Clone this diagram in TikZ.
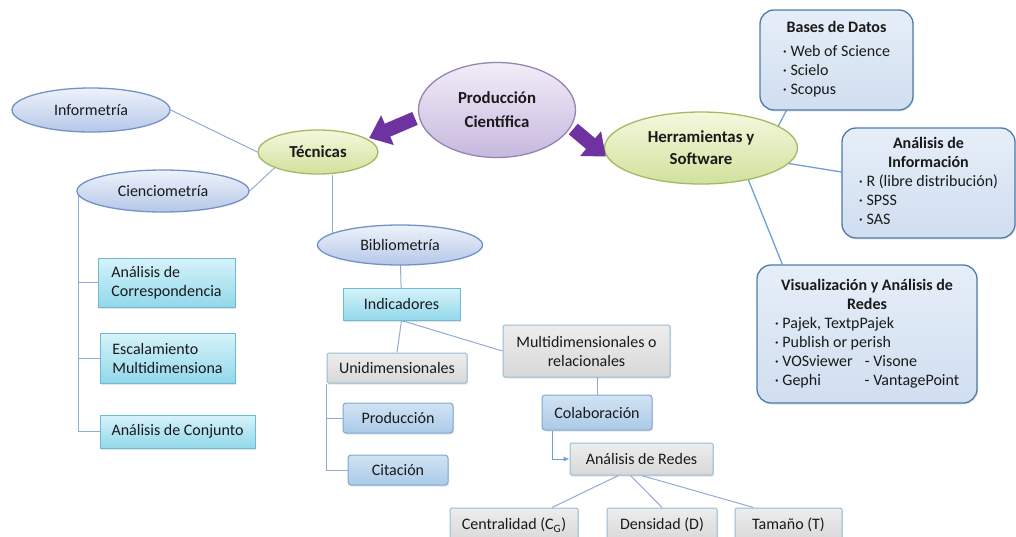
\documentclass[tikz,border=0pt]{standalone}
\usepackage{fontspec}
\setmainfont{Carlito}
\usetikzlibrary{shapes.geometric,backgrounds,arrows.meta,shadows}
\definecolor{txt}{HTML}{1A1A1A}
\definecolor{bluebd}{HTML}{7492C6}
\definecolor{bluetop}{HTML}{EEF3FB}
\definecolor{bluebot}{HTML}{B5C7E8}
\definecolor{greenbd}{HTML}{A3BA62}
\definecolor{greentop}{HTML}{F4F8DE}
\definecolor{greenbot}{HTML}{D2E19C}
\definecolor{purpbd}{HTML}{9585B2}
\definecolor{purptop}{HTML}{F2EDF8}
\definecolor{purpbot}{HTML}{C7B8DE}
\definecolor{arrowc}{HTML}{6F33A1}
\definecolor{cyantop}{HTML}{D6F3FA}
\definecolor{cyanbot}{HTML}{92D8EB}
\definecolor{cyanbd}{HTML}{6EBAD3}
\definecolor{graytop}{HTML}{EDEDED}
\definecolor{graybot}{HTML}{D8D8D8}
\definecolor{graybd}{HTML}{93BCD6}
\definecolor{lbtop}{HTML}{D2E3F3}
\definecolor{lbbot}{HTML}{AACAE8}
\definecolor{lbbd}{HTML}{7EA9D3}
\definecolor{rtop}{HTML}{E6EEF8}
\definecolor{rbot}{HTML}{D0DEF0}
\definecolor{rbd}{HTML}{4F7BAB}
\definecolor{connc}{HTML}{93ABD4}
\definecolor{connr}{HTML}{6CA2D4}
\begin{document}
\begin{tikzpicture}[x=1pt,y=-1pt,
  font=\fontsize{16}{19}\selectfont, text=txt,
  bell/.style={ellipse, draw=bluebd, line width=1.3pt, top color=bluetop, bottom color=bluebot, inner sep=0pt},
  gell/.style={ellipse, draw=greenbd, line width=1.3pt, top color=greentop, bottom color=greenbot, inner sep=0pt, font=\fontsize{16.8}{22}\selectfont\bfseries, align=center},
  pell/.style={ellipse, draw=purpbd, line width=1.3pt, top color=purptop, bottom color=purpbot, inner sep=0pt, font=\fontsize{16.8}{24}\selectfont\bfseries, align=center},
  cbox/.style={rectangle, draw=cyanbd, line width=1pt, top color=cyantop, bottom color=cyanbot, inner sep=2pt, align=left, drop shadow={opacity=0.2, shadow xshift=1pt, shadow yshift=-1.5pt}},
  gbox/.style={rectangle, rounded corners=1.5pt, draw=graybd, line width=1pt, top color=graytop, bottom color=graybot, inner sep=2pt, align=center, drop shadow={opacity=0.2, shadow xshift=1pt, shadow yshift=-1.5pt}},
  lbox/.style={rectangle, rounded corners=3pt, draw=lbbd, line width=1pt, top color=lbtop, bottom color=lbbot, inner sep=2pt, align=center, drop shadow={opacity=0.2, shadow xshift=1pt, shadow yshift=-1.5pt}},
  rbox/.style={rectangle, rounded corners=14pt, draw=rbd, line width=1.3pt, top color=rtop, bottom color=rbot, inner sep=0pt, drop shadow={opacity=0.2, shadow xshift=1pt, shadow yshift=-1.5pt}},
  conn/.style={draw=connc, line width=1pt},
  connR/.style={draw=connr, line width=1.3pt},
  bigarr/.style={draw=arrowc, line width=14pt, -{Triangle[width=31pt,length=20pt]}}
]
\useasboundingbox (0,0) rectangle (1016,536);
\clip (0,0) rectangle (1016,536);

% ellipses
\node[pell, minimum width=157pt, minimum height=95pt] (prod) at (497,110) {Producción\\Científica};
\node[gell, minimum width=120pt, minimum height=44pt] (tec) at (318,152) {Técnicas};
\node[gell, minimum width=193pt, minimum height=72pt] (herr) at (701,148) {Herramientas y\\Software};
\node[bell, minimum width=158pt, minimum height=44pt] (info) at (91,110) {Informetría};
\node[bell, minimum width=172pt, minimum height=42pt] (cien) at (163,191) {Cienciometría};
\node[bell, minimum width=165pt, minimum height=40pt] (biblio) at (400,245) {Bibliometría};

% right boxes
\node[rbox, minimum width=153pt, minimum height=100pt] (bases) at (836.5,60)
  {\begin{tabular}{@{}l@{}}\multicolumn{1}{@{}c@{}}{\textbf{Bases de Datos}}\\[5pt]
   · Web of Science\\ · Scielo\\ · Scopus\end{tabular}};
\node[rbox, minimum width=173pt, minimum height=110pt] (anal) at (928.5,183)
  {\begin{tabular}{@{}l@{}}\multicolumn{1}{@{}c@{}}{\textbf{Análisis de}}\\
   \multicolumn{1}{@{}c@{}}{\textbf{Información}}\\
   · R (libre distribución)\\ · SPSS\\ · SAS\end{tabular}};
\node[rbox, minimum width=220pt, minimum height=138pt] (visual) at (867,334)
  {\begin{tabular}{@{}l@{}}\multicolumn{1}{@{}c@{}}{\textbf{Visualización y Análisis de}}\\
   \multicolumn{1}{@{}c@{}}{\textbf{Redes}}\\
   · Pajek, TextpPajek\\ · Publish or perish\\
   \makebox[90pt][l]{· VOSviewer}- Visone\\
   \makebox[90pt][l]{· Gephi}- VantagePoint\end{tabular}};

% left boxes
\node[cbox, minimum width=137pt, minimum height=49pt] (corr) at (166.5,282.5) {Análisis de\\Correspondencia};
\node[cbox, minimum width=135pt, minimum height=50pt] (esc) at (167.5,358) {Escalamiento\\Multidimensiona};
\node[cbox, minimum width=155pt, minimum height=33pt] (conj) at (177.5,431.5) {Análisis de Conjunto};

% bibliometria subtree
\node[cbox, minimum width=117pt, minimum height=32pt, align=center] (ind) at (401.5,304) {Indicadores};
\node[gbox, minimum width=140pt, minimum height=30pt] (unid) at (397,368) {Unidimensionales};
\node[gbox, minimum width=167pt, minimum height=52pt] (multi) at (586.5,351) {Multidimensionales o\\relacionales};
\node[lbox, minimum width=110pt, minimum height=30pt] (prodb) at (398,418) {Producción};
\node[lbox, minimum width=100pt, minimum height=30pt] (cit) at (398,470) {Citación};
\node[lbox, minimum width=110pt, minimum height=35pt] (colab) at (597,412.5) {Colaboración};
\node[gbox, minimum width=143pt, minimum height=32pt] (redes) at (641.5,459) {Análisis de Redes};
\node[gbox, minimum width=128pt, minimum height=34pt] (cent) at (514,525) {Centralidad (C\textsubscript{G})};
\node[gbox, minimum width=110pt, minimum height=34pt] (dens) at (662,525) {Densidad (D)};
\node[gbox, minimum width=107pt, minimum height=34pt] (tam) at (788.5,525) {Tamaño (T)};

% purple arrows
\draw[bigarr, shorten <=4pt, shorten >=2pt] (prod.185) -- (tec.15);
\draw[bigarr, shorten <=3pt, shorten >=2pt] (prod.-13) -- (herr.186);

\begin{pgfonlayer}{background}
  \fill[white] (0,0) rectangle (1016,536);
  \draw[conn] (info.east) -- (tec.west);
  \draw[conn] (cien.east) -- (tec.200);
  \draw[conn] ([xshift=14pt]tec.south) -- ([xshift=14pt]tec.south |- biblio.center);
  \draw[conn] (cien.183) |- (corr.west);
  \draw[conn] (cien.183) |- (esc.west);
  \draw[conn] (cien.183) |- (conj.west);
  \draw[conn] (biblio.center) -- (ind.center);
  \draw[conn] (ind.south) -- (unid.north);
  \draw[conn] (ind.south) -- (multi.west);
  \draw[conn] (unid.south west) |- (prodb.west);
  \draw[conn] (unid.south west) |- (cit.west);
  \draw[conn] (colab.center) -- (colab.center |- multi.center);
  \draw[conn, draw=connr, -{Latex[length=6pt,width=5pt]}] ([xshift=11pt]colab.south west) |- (redes.west);
  \draw[conn] ([xshift=-23pt]redes.south) -- ([xshift=38pt]cent.north);
  \draw[conn] ([xshift=-11pt]redes.south) -- (dens.north);
  \draw[conn] (redes.south) -- ([xshift=-35pt]tam.north);
  \draw[connR] (herr.16) -- ([xshift=27pt]bases.south west);
  \draw[connR] (herr.-10) -- ([yshift=11pt]anal.west);
  \draw[connR] (herr.-34) -- ([xshift=26pt]visual.north west);
\end{pgfonlayer}
\end{tikzpicture}
\end{document}
